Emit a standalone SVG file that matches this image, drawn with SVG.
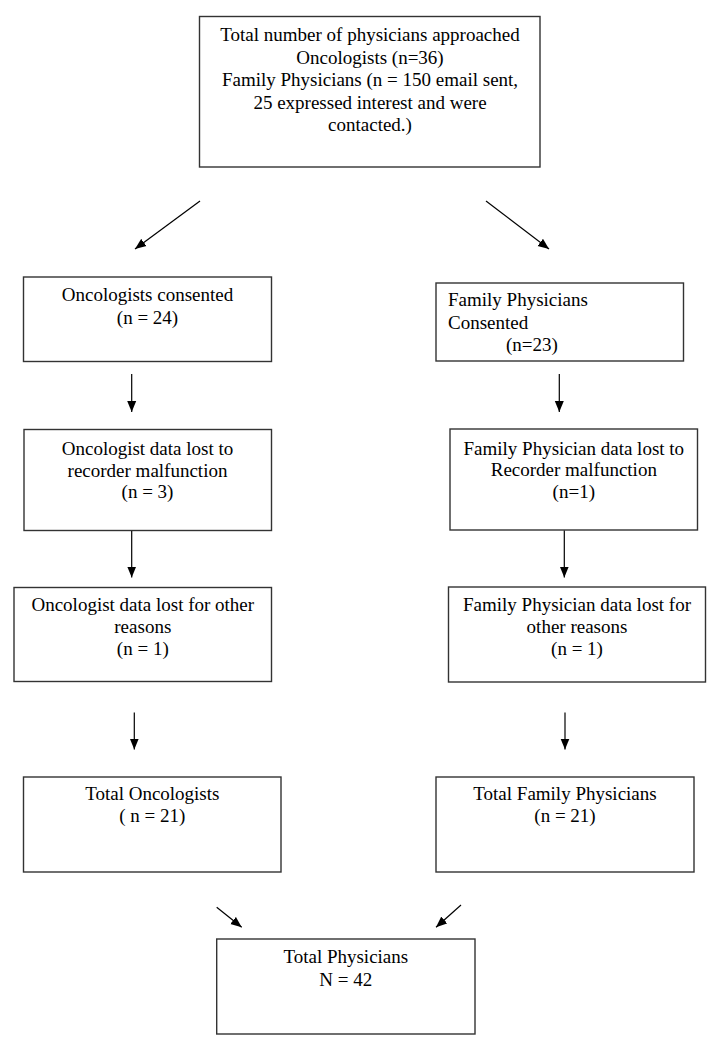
<svg xmlns="http://www.w3.org/2000/svg" width="720" height="1050" viewBox="0 0 720 1050">
<style>
.box{fill:#fff;stroke:#333;stroke-width:1.4}
.t{font-family:"Liberation Serif","Times New Roman",serif;font-size:19px;fill:#000}
.c{text-anchor:middle}
.conn line{stroke:#000;stroke-width:1.2;marker-end:url(#ah)}
</style>
<defs>
<marker id="ah" markerUnits="userSpaceOnUse" markerWidth="12" markerHeight="10" refX="11" refY="5" orient="auto">
<path d="M0,0.5 L11,5 L0,9.5 z" fill="#000"/>
</marker>
</defs>
<rect width="720" height="1050" fill="#fff"/>
<g id="n-top">
<rect class="box" x="199.5" y="16.5" width="340.5" height="150.5"/>
<text class="t c"><tspan x="370" y="41">Total number of physicians approached</tspan><tspan x="370" y="63.5">Oncologists (n=36)</tspan><tspan x="370" y="86">Family Physicians (n = 150 email sent,</tspan><tspan x="370" y="108.5">25 expressed interest and were</tspan><tspan x="370" y="131">contacted.)</tspan></text>
</g>
<g id="n-onc-consented">
<rect class="box" x="23.5" y="277" width="248" height="84.5"/>
<text class="t c"><tspan x="147.5" y="301">Oncologists consented</tspan><tspan x="147.5" y="324">(n = 24)</tspan></text>
</g>
<g id="n-fp-consented">
<rect class="box" x="436" y="283" width="247.5" height="78"/>
<text class="t"><tspan x="448" y="306">Family Physicians</tspan><tspan x="448" y="328.5">Consented</tspan><tspan x="506" y="351">(n=23)</tspan></text>
</g>
<g id="n-onc-recorder">
<rect class="box" x="24" y="429.5" width="247.5" height="101"/>
<text class="t c"><tspan x="147.5" y="455">Oncologist data lost to</tspan><tspan x="147.5" y="476.5">recorder malfunction</tspan><tspan x="147.5" y="498">(n = 3)</tspan></text>
</g>
<g id="n-fp-recorder">
<rect class="box" x="450" y="429" width="247.5" height="101"/>
<text class="t c"><tspan x="573.8" y="454.5">Family Physician data lost to</tspan><tspan x="573.8" y="476">Recorder malfunction</tspan><tspan x="573.8" y="497.5">(n=1)</tspan></text>
</g>
<g id="n-onc-other">
<rect class="box" x="14" y="587.5" width="257.5" height="94"/>
<text class="t c"><tspan x="142.8" y="611">Oncologist data lost for other</tspan><tspan x="142.8" y="633">reasons</tspan><tspan x="142.8" y="655">(n = 1)</tspan></text>
</g>
<g id="n-fp-other">
<rect class="box" x="448.5" y="587" width="257" height="95"/>
<text class="t c"><tspan x="577" y="611">Family Physician data lost for</tspan><tspan x="577" y="633">other reasons</tspan><tspan x="577" y="655">(n = 1)</tspan></text>
</g>
<g id="n-onc-total">
<rect class="box" x="23.5" y="777" width="257.5" height="95"/>
<text class="t c"><tspan x="152.3" y="800">Total Oncologists</tspan><tspan x="152.3" y="822">( n = 21)</tspan></text>
</g>
<g id="n-fp-total">
<rect class="box" x="436" y="777" width="258" height="95"/>
<text class="t c"><tspan x="565" y="800">Total Family Physicians</tspan><tspan x="565" y="822">(n = 21)</tspan></text>
</g>
<g id="n-total">
<rect class="box" x="216.7" y="939" width="258.3" height="95"/>
<text class="t c"><tspan x="345.8" y="963">Total Physicians</tspan><tspan x="345.8" y="985.5">N = 42</tspan></text>
</g>
<g id="connectors" class="conn">
<line x1="200" y1="201" x2="135" y2="249"/>
<line x1="486" y1="201" x2="549" y2="249"/>
<line x1="131.7" y1="374" x2="131.7" y2="412"/>
<line x1="559.3" y1="374" x2="559.3" y2="412"/>
<line x1="131.7" y1="531" x2="131.7" y2="577.5"/>
<line x1="564.3" y1="530.5" x2="564.3" y2="577.5"/>
<line x1="134.3" y1="712.5" x2="134.3" y2="749.5"/>
<line x1="565" y1="712.5" x2="565" y2="749.5"/>
<line x1="216.7" y1="907.3" x2="241.7" y2="927.3"/>
<line x1="461" y1="905" x2="436" y2="927.3"/>
</g>
</svg>
